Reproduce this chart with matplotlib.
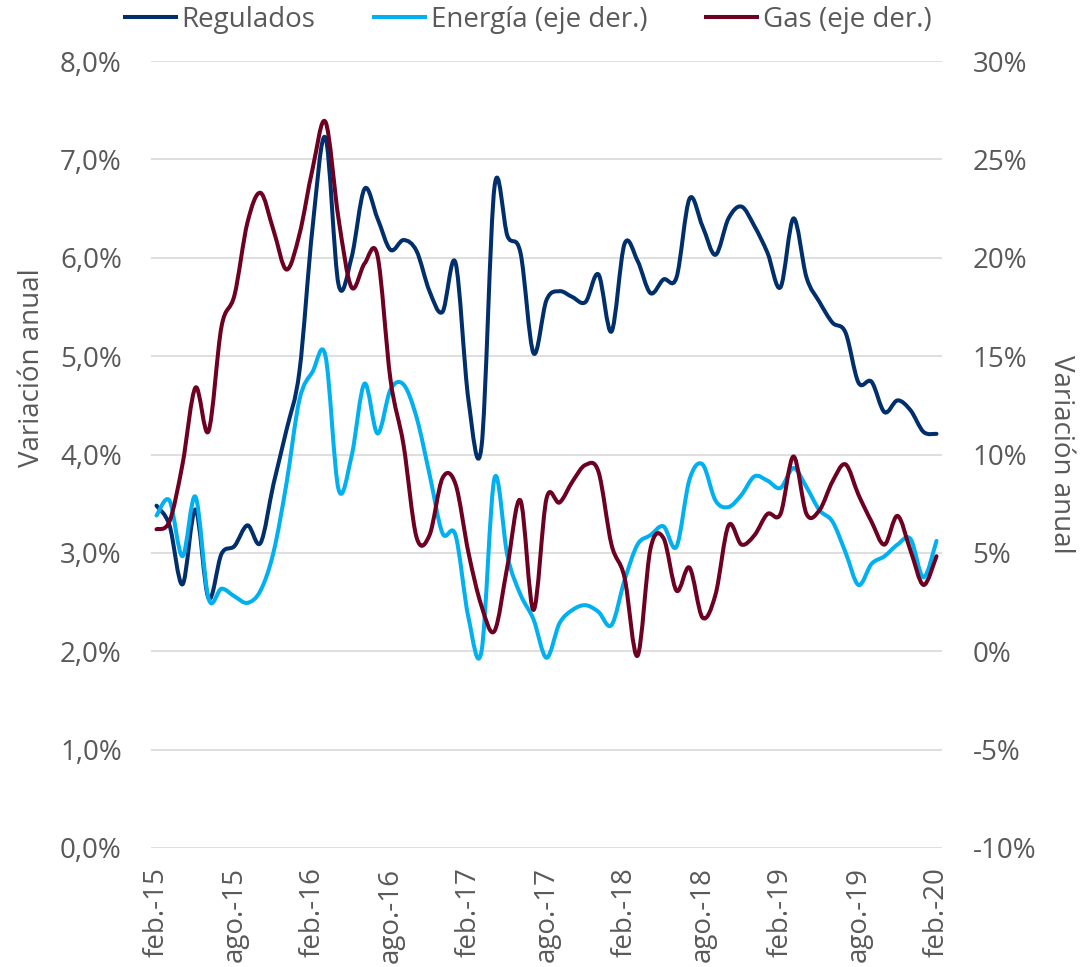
import numpy as np
import matplotlib
matplotlib.use("Agg")
import matplotlib.pyplot as plt
from matplotlib.path import Path
from matplotlib.patches import PathPatch
from matplotlib.lines import Line2D
from matplotlib.ticker import FuncFormatter

plt.rcParams['font.family'] = ['Open Sans', 'DejaVu Sans']

# monthly data, feb-15 .. feb-20 (61 months)
regulados = [3.48, 3.28, 2.68, 3.44, 2.54, 2.99, 3.07, 3.28, 3.10, 3.70,
             4.25, 4.85, 6.30, 7.22, 5.73, 6.00, 6.70, 6.40, 6.08, 6.18,
             6.07, 5.66, 5.45, 5.95, 4.55, 4.08, 6.72, 6.22, 6.05, 5.03,
             5.57, 5.66, 5.60, 5.55, 5.83, 5.25, 6.14, 5.97, 5.64, 5.78,
             5.80, 6.60, 6.32, 6.03, 6.40, 6.52, 6.32, 6.05, 5.70, 6.40,
             5.80, 5.55, 5.34, 5.24, 4.73, 4.74, 4.43, 4.55, 4.45, 4.23,
             4.21]
energia = [6.90, 7.66, 4.83, 7.85, 2.69, 3.18, 2.79, 2.46, 3.08, 5.03,
           8.54, 12.80, 14.20, 15.00, 8.24, 9.90, 13.60, 11.07, 13.30, 13.56,
           11.90, 9.00, 6.00, 5.90, 1.70, 0.00, 8.80, 4.83, 2.88, 1.62,
           -0.33, 1.42, 2.10, 2.34, 2.00, 1.33, 3.60, 5.42, 5.90, 6.35,
           5.32, 8.73, 9.50, 7.66, 7.33, 7.95, 8.89, 8.67, 8.30, 9.31,
           8.34, 7.17, 6.59, 5.03, 3.37, 4.44, 4.83, 5.42, 5.71, 3.76,
           5.61]
gas = [6.20, 6.60, 9.50, 13.40, 11.18, 16.50, 18.10, 21.80, 23.30, 21.40,
       19.40, 21.20, 24.50, 26.90, 22.00, 18.50, 19.70, 20.10, 13.80, 10.50,
       5.80, 5.90, 8.80, 8.50, 5.00, 2.30, 1.03, 4.35, 7.66, 2.10,
       7.76, 7.56, 8.63, 9.47, 9.12, 5.42, 3.76, -0.23, 5.22, 5.75,
       3.08, 4.25, 1.71, 2.88, 6.39, 5.42, 5.90, 6.98, 6.98, 9.90,
       6.98, 7.17, 8.63, 9.50, 7.95, 6.59, 5.42, 6.88, 5.12, 3.37,
       4.83]
tick_labels = ['feb.-15', 'ago.-15', 'feb.-16', 'ago.-16', 'feb.-17', 'ago.-17',
               'feb.-18', 'ago.-18', 'feb.-19', 'ago.-19', 'feb.-20']

c_reg = '#002F6C'
c_ene = '#00B0F0'
c_gas = '#6E0022'
gray = '#595959'


def smooth_path(x, y):
    # Catmull-Rom style bezier, like Excel's smoothed line
    x = np.asarray(x, float)
    y = np.asarray(y, float)
    px = np.concatenate([[x[0]], x, [x[-1]]])
    py = np.concatenate([[y[0]], y, [y[-1]]])
    verts = [(x[0], y[0])]
    codes = [Path.MOVETO]
    for i in range(1, len(px) - 2):
        c1 = (px[i] + (px[i + 1] - px[i - 1]) / 6, py[i] + (py[i + 1] - py[i - 1]) / 6)
        c2 = (px[i + 1] - (px[i + 2] - px[i]) / 6, py[i + 1] - (py[i + 2] - py[i]) / 6)
        verts += [c1, c2, (px[i + 1], py[i + 1])]
        codes += [Path.CURVE4] * 3
    return Path(verts, codes)


months = np.arange(len(regulados))

fig = plt.figure(figsize=(10.84, 9.67), dpi=100)
ax = fig.add_axes([151 / 1084, 1 - 848 / 967, 791 / 1084, 787 / 967])
ax2 = ax.twinx()

ax.set_xlim(-0.423, 60.423)
ax.set_ylim(0, 8)
ax2.set_ylim(-10, 30)
ax.set_yticks(np.arange(0, 8.1, 1))
ax2.set_yticks(np.arange(-10, 31, 5))
ax.yaxis.set_major_formatter(FuncFormatter(lambda v, p: f"{v:.1f}%".replace('.', ',')))
ax2.yaxis.set_major_formatter(FuncFormatter(lambda v, p: f"{v:.0f}%"))
ax.set_xticks(np.arange(0, 61, 6))
ax.set_xticklabels(tick_labels, rotation=90)

ax.grid(axis='y', color='#D9D9D9', linewidth=1.2)
ax.set_axisbelow(True)
for a in (ax, ax2):
    for s in a.spines.values():
        s.set_visible(False)
ax.tick_params(axis='both', length=0, labelsize=20, labelcolor=gray)
ax.tick_params(axis='y', pad=21)
ax.tick_params(axis='x', pad=14)
ax2.tick_params(axis='y', length=0, labelsize=20, labelcolor=gray, pad=22)

ax.add_patch(PathPatch(smooth_path(months, regulados), fill=False, edgecolor=c_reg,
                       lw=2.9, capstyle='round', joinstyle='round', zorder=3))
ax2.add_patch(PathPatch(smooth_path(months, energia), fill=False, edgecolor=c_ene,
                        lw=2.9, capstyle='round', joinstyle='round', zorder=3))
ax2.add_patch(PathPatch(smooth_path(months, gas), fill=False, edgecolor=c_gas,
                        lw=2.9, capstyle='round', joinstyle='round', zorder=4))

ax.set_ylabel('Variación anual', fontsize=20, color=gray)
ax.yaxis.set_label_coords(-0.133, 0.61)
ax2.set_ylabel('Variación anual', fontsize=20, color=gray, rotation=270)
ax2.yaxis.set_label_coords(1.168, 0.5)

handles = [Line2D([0], [0], color=c_reg, lw=2.9),
           Line2D([0], [0], color=c_ene, lw=2.9),
           Line2D([0], [0], color=c_gas, lw=2.9)]
fig.legend(handles, ['Regulados', 'Energía (eje der.)', 'Gas (eje der.)'],
           loc='center', bbox_to_anchor=(528 / 1084, 1 - 20 / 967), ncol=3,
           frameon=False, fontsize=20, labelcolor=gray, handlelength=1.85,
           handletextpad=0.2, columnspacing=2.1)

fig.savefig('out.png', dpi=100)
